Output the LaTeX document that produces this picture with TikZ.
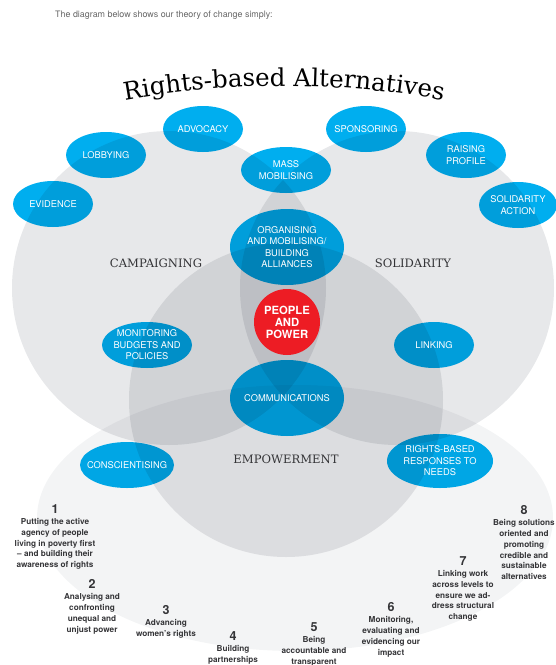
\documentclass[tikz,border=0pt]{standalone}
\usepackage{fontspec}
\setmainfont{TeX Gyre Heros}
\newfontfamily\typefont{DejaVu Serif}
\usetikzlibrary{shapes.geometric,decorations.text}

\definecolor{bubbleblue}{RGB}{0,174,239}
\definecolor{ringgray}{RGB}{231,232,234}
\definecolor{basegray}{RGB}{243,244,245}
\definecolor{powerred}{RGB}{237,28,36}
\definecolor{inkgray}{RGB}{52,52,55}

\newcommand\principlenum{\fontsize{12.5}{12.5}\selectfont}

\begin{document}
\begin{tikzpicture}[x=1pt,y=-1pt,
  bubble/.style={ellipse, inner xsep=-7pt, inner ysep=0pt, align=center,
    text=white, font=\fontsize{9.3}{11.5}\selectfont,
    preaction={fill=bubbleblue, blend mode=multiply},
    minimum width=80pt, minimum height=46pt},
  ring/.style={fill=ringgray, blend mode=multiply},
  area/.style={inner sep=0pt, text=inkgray, font=\typefont\fontsize{11.6}{11.6}\selectfont},
  principle/.style={anchor=north, align=center, inner sep=0pt, text=inkgray,
    font=\bfseries\fontsize{8.2}{10.7}\selectfont}]
  \useasboundingbox (0,0) rectangle (556,665);

  % intro line
  \node[anchor=base west, inner sep=0pt, text=black!60, font=\fontsize{8.9}{10}\selectfont]
    (intro) at (55,17) {The diagram below shows our theory of change simply:};

  % title on an arc
  \path[decorate, decoration={text along path, text align=center,
      text={|\typefont\fontsize{24.5}{24.5}\selectfont|Rights-based Alternatives}}]
    (284,987) ++(257:901) arc[start angle=257, end angle=283, radius=901];

  % base ellipse under the three circles
  \fill[basegray, blend mode=multiply] (295,518) ellipse [x radius=258, y radius=133];

  % campaigning, solidarity, empowerment
  \coordinate (C) at (169,288);
  \coordinate (S) at (397,288);
  \coordinate (E) at (286,400);
  \foreach \c in {C,S,E}
    \fill[ring] (\c) circle (157);

  \node[area] (camp) at (156,263) {CAMPAIGNING};
  \node[area] (solid) at (413,263) {SOLIDARITY};
  \node[area] (empower) at (286,459) {EMPOWERMENT};

  % activities
  \node[bubble] (evidence) at (53,204) {EVIDENCE};
  \node[bubble] (lobbying) at (106,155) {LOBBYING};
  \node[bubble] (advocacy) at (203,129) {ADVOCACY};
  \node[bubble, minimum width=90pt] (massmob) at (286,170) {MASS\\MOBILISING};
  \node[bubble] (sponsoring) at (366,129) {SPONSORING};
  \node[bubble] (raising) at (466,155) {RAISING\\PROFILE};
  \node[bubble, minimum width=78pt] (solidact) at (518,205) {SOLIDARITY\\ACTION};
  \node[bubble, minimum width=114pt, minimum height=76pt] (organising) at (287,247)
    {ORGANISING\\AND MOBILISING/\\BUILDING\\ALLIANCES};
  \node[bubble, minimum width=90pt] (monitoring) at (147,345) {MONITORING\\BUDGETS AND\\POLICIES};
  \node[bubble] (linking) at (434,345) {LINKING};
  \node[bubble, minimum width=114pt, minimum height=76pt] (comms) at (287,398) {COMMUNICATIONS};
  \node[bubble, minimum width=94pt] (conscient) at (127,465) {CONSCIENTISING};
  \node[bubble, minimum width=106pt, minimum height=54pt] (rights) at (440,461)
    {RIGHTS-BASED\\RESPONSES TO\\NEEDS};

  % centre
  \node[circle, fill=powerred, minimum size=66pt, inner sep=0pt, text=white, align=center,
    font=\bfseries\fontsize{11.3}{12}\selectfont] (people) at (287,322) {PEOPLE\\AND\\POWER};

  % principles 1-8
  \node[principle] (p1) at (55,504) {{\principlenum 1}\\[1pt]Putting the active\\agency of people\\living in poverty first\\-- and building their\\awareness of rights};
  \node[principle] (p2) at (92,579) {{\principlenum 2}\\[1pt]Analysing and\\confronting\\unequal and\\unjust power};
  \node[principle] (p3) at (166,605) {{\principlenum 3}\\[1pt]Advancing\\women's rights};
  \node[principle] (p4) at (233,631) {{\principlenum 4}\\[1pt]Building\\partnerships};
  \node[principle] (p5) at (314,622) {{\principlenum 5}\\[1pt]Being\\accountable and\\transparent};
  \node[principle] (p6) at (391,602) {{\principlenum 6}\\[1pt]Monitoring,\\evaluating and\\evidencing our\\impact};
  \node[principle] (p7) at (463,556) {{\principlenum 7}\\[1pt]Linking work\\across levels to\\ensure we ad-\\dress structural\\change};
  \node[principle] (p8) at (524,505) {{\principlenum 8}\\[1pt]Being solutions\\oriented and\\promoting\\credible and\\sustainable\\alternatives};
\end{tikzpicture}
\end{document}
